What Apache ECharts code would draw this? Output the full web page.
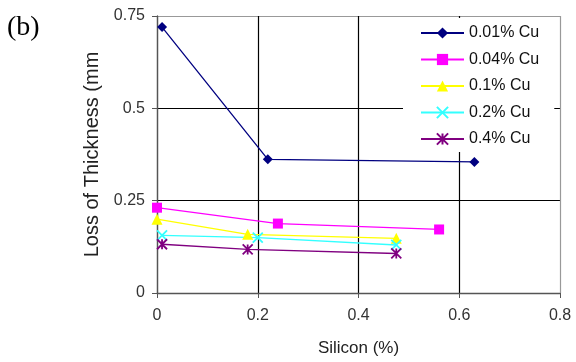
<!DOCTYPE html>
<html>
<head>
<meta charset="utf-8">
<script src="https://cdn.jsdelivr.net/npm/echarts@6/dist/echarts.min.js"></script>
<style>
  html, body { margin: 0; padding: 0; background: #fff; }
  #chart { width: 576px; height: 362px; }
</style>
</head>
<body>
<div id="chart"></div>
<script>
// 图例名称
var seriesNames = ["0.01% Cu", "0.04% Cu", "0.1% Cu", "0.2% Cu", "0.4% Cu"];
// 每条线的硅含量 (x) 与厚度损失 (y)
var siCu001 = [0.01, 0.22, 0.63];
var lossCu001 = [0.72, 0.362, 0.355];
var siCu004 = [0.0, 0.24, 0.56];
var lossCu004 = [0.231, 0.188, 0.172];
var siCu01 = [0.0, 0.18, 0.475];
var lossCu01 = [0.2, 0.159, 0.148];
var siCu02 = [0.01, 0.2, 0.475];
var lossCu02 = [0.156, 0.15, 0.13];
var siCu04 = [0.01, 0.18, 0.475];
var lossCu04 = [0.132, 0.118, 0.107];

var colors = ["#000080", "#ff00ff", "#ffff00", "#33ffff", "#800080"];
var xPath = "path://M0,0L10,10M10,0L0,10";
var starPath = "path://M0,0L10,10M10,0L0,10M5,0L5,10";
var symbols = ["diamond", "rect", "triangle", xPath, starPath];
var sizes = [10, 10, 11, 10, 10];

function pairs(xs, ys) {
  var out = [];
  for (var i = 0; i < xs.length; i++) out.push([xs[i], ys[i]]);
  return out;
}
var dataList = [
  pairs(siCu001, lossCu001),
  pairs(siCu004, lossCu004),
  pairs(siCu01, lossCu01),
  pairs(siCu02, lossCu02),
  pairs(siCu04, lossCu04)
];

var series = [];
for (var i = 0; i < dataList.length; i++) {
  var stroked = i >= 3;
  series.push({
    name: seriesNames[i],
    type: "line",
    data: dataList[i],
    symbol: symbols[i],
    symbolSize: sizes[i],
    showAllSymbol: true,
    color: colors[i],
    lineStyle: { color: colors[i], width: 1.3 },
    itemStyle: stroked
      ? { color: colors[i], borderColor: colors[i], borderWidth: 1.8 }
      : { color: colors[i], borderWidth: 0 },
    animation: false
  });
}

var myChart = echarts.init(document.getElementById("chart"));
var option = {
  animation: false,
  textStyle: { fontFamily: "Liberation Sans, Arial, sans-serif" },
  grid: { left: 157, right: 16, top: 16, bottom: 67, show: false },
  legend: {
    orient: "vertical",
    left: 403,
    top: 18,
    padding: [7, 15, 5, 17],
    backgroundColor: "#fff",
    itemWidth: 43,
    itemHeight: 14,
    itemGap: 10.5,
    selectedMode: false,
    textStyle: { fontSize: 16, color: "#111", fontFamily: "Liberation Sans, Arial" },
    data: seriesNames
  },
  xAxis: {
    type: "value",
    min: 0,
    max: 0.8,
    interval: 0.2,
    name: "Silicon (%)",
    nameLocation: "middle",
    nameGap: 47,
    nameTextStyle: { fontSize: 17, color: "#222" },
    axisLine: { lineStyle: { color: "#555", width: 1.3 } },
    axisTick: { show: true, length: 5, lineStyle: { color: "#555" } },
    axisLabel: { fontSize: 16, color: "#333", margin: 15 },
    splitLine: { show: true, lineStyle: { color: ["#555", "#000", "#000", "#000", "#999"], width: 1.2 } }
  },
  yAxis: {
    type: "value",
    min: 0,
    max: 0.75,
    interval: 0.25,
    name: "Loss of Thickness (mm",
    nameLocation: "middle",
    nameGap: 47,
    nameTextStyle: { fontSize: 20, color: "#222" },
    axisLine: { show: true, lineStyle: { color: "#555", width: 1.3 } },
    axisTick: { show: true, length: 5, lineStyle: { color: "#555" } },
    axisLabel: { fontSize: 16, color: "#333", margin: 12 },
    splitLine: { show: true, lineStyle: { color: ["#555", "#000", "#000", "#999"], width: 1.2 } }
  },
  graphic: [
    {
      type: "text",
      left: 7,
      top: 14,
      style: { text: "(b)", font: "28px 'Liberation Serif', 'Times New Roman', serif", fill: "#000" }
    }
  ],
  series: series
};
myChart.setOption(option, true);
</script>
</body>
</html>
